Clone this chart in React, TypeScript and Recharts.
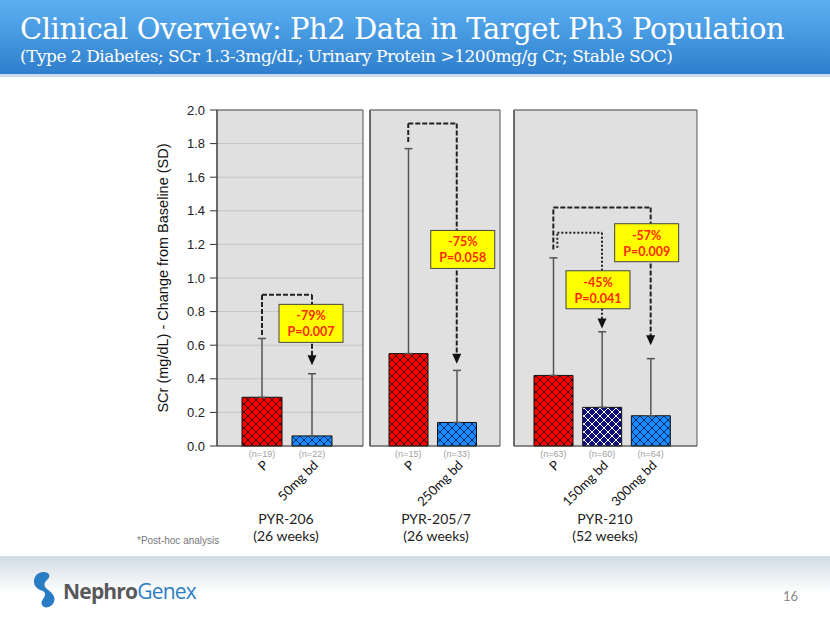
import { BarChart, Bar, Cell, XAxis, YAxis, CartesianGrid, ErrorBar, ReferenceLine, ReferenceDot } from 'recharts'

const yTicks = [0, 0.2, 0.4, 0.6, 0.8, 1.0, 1.2, 1.4, 1.6, 1.8, 2.0]

// PYR-206 (26 weeks)
const p206Doses = ['P', '50mg bd']
const p206Mean = [0.29, 0.06]
const p206SD = [0.35, 0.37]
const p206N = [19, 22]

// PYR-205/7 (26 weeks)
const p205Doses = ['P', '250mg bd']
const p205Mean = [0.55, 0.14]
const p205SD = [1.22, 0.31]
const p205N = [15, 33]

// PYR-210 (52 weeks)
const p210Doses = ['P', '150mg bd', '300mg bd']
const p210Mean = [0.42, 0.23, 0.18]
const p210SD = [0.7, 0.45, 0.34]
const p210N = [63, 60, 64]

// comparisons vs placebo: bracket start / top / arrow end (y values)
const p206Brackets = [{ from: 'P', to: '50mg bd', start: 0.66, top: 0.9, end: 0.48 }]
const p205Brackets = [{ from: 'P', to: '250mg bd', start: 1.81, top: 1.92, end: 0.49 }]
const p210Brackets = [
  { from: 'P', to: '300mg bd', start: 1.17, top: 1.42, end: 0.6 },
  { from: 'P', to: '150mg bd', start: 1.18, top: 1.27, end: 0.7, dotted: true },
]

const p206Boxes = [{ at: '50mg bd', y: 0.73, pct: '-79%', p: 'P=0.007' }]
const p205Boxes = [{ at: '250mg bd', y: 1.17, pct: '-75%', p: 'P=0.058' }]
const p210Boxes = [
  { at: '150mg bd', y: 0.93, pct: '-45%', p: 'P=0.041' },
  { at: '300mg bd', y: 1.21, pct: '-57%', p: 'P=0.009' },
]

const calibri = 'Lato, "Open Sans", sans-serif'
const arial = '"Liberation Sans", Arial, sans-serif'
const serif = '"DejaVu Serif", Georgia, serif'

function rows(doses: string[], mean: number[], sd: number[], n: number[]) {
  return doses.map((dose, i) => ({ dose, mean: mean[i], sd: [0, sd[i]], n: n[i] }))
}

function doseTick(props: any, data: any[]) {
  const { x, y, payload } = props
  const row = data.find((d) => d.dose === payload.value)
  const ax = x + 7
  const ay = y + 20
  return (
    <g>
      <text x={x} y={y + 11} textAnchor="middle" fontSize={9} fill="#a0a0a0" fontFamily={arial}>
        (n={row ? row.n : ''})
      </text>
      <text x={ax} y={ay} textAnchor="end" fontSize={13} fill="#111" fontFamily={calibri} transform={`rotate(-45 ${ax} ${ay})`}>
        {payload.value}
      </text>
    </g>
  )
}

function arrowHead(p: any) {
  const { cx, cy } = p
  return <path d={`M${cx - 4.5},${cy - 10} L${cx + 4.5},${cy - 10} L${cx},${cy} Z`} fill="#111" />
}

function dashLine(dx1: number, dx2: number, dash: string) {
  return (p: any) => <line x1={p.x1 + dx1} y1={p.y1} x2={p.x2 + dx2} y2={p.y2} stroke="#222" strokeWidth={2} strokeDasharray={dash} />
}

function bracket(b: any, k: number) {
  const dash = b.dotted ? '2 2' : '5 2'
  const dx = b.dotted ? 4 : 0
  return [
    <ReferenceLine key={`a${k}`} segment={[{ x: b.from, y: b.start }, { x: b.from, y: b.top }]} shape={dashLine(dx, dx, dash)} />,
    <ReferenceLine key={`b${k}`} segment={[{ x: b.from, y: b.top }, { x: b.to, y: b.top }]} shape={dashLine(dx, 0, dash)} />,
    <ReferenceLine key={`c${k}`} segment={[{ x: b.to, y: b.top }, { x: b.to, y: b.end + 0.04 }]} shape={dashLine(0, 0, dash)} />,
    <ReferenceDot key={`d${k}`} x={b.to} y={b.end} r={5} shape={arrowHead} />,
  ]
}

function labelBox(b: any, k: number, dx: number) {
  return (
    <ReferenceDot
      key={`box${k}`}
      x={b.at}
      y={b.y}
      r={5}
      shape={(p: any) => (
        <g>
          <rect x={p.cx + dx - 32} y={p.cy - 19} width={64} height={38} fill="#ffff00" stroke="#444" strokeWidth={1} />
          <text x={p.cx + dx} y={p.cy - 3} textAnchor="middle" fontSize={12.5} fontWeight="bold" fill="#ff2a00" fontFamily={calibri}>
            {b.pct}
          </text>
          <text x={p.cx + dx} y={p.cy + 13} textAnchor="middle" fontSize={12.5} fontWeight="bold" fill="#ff2a00" fontFamily={calibri}>
            {b.p}
          </text>
        </g>
      )}
    />
  )
}

interface PanelProps {
  data: any[]
  fills: string[]
  brackets: any[]
  boxes: any[]
  boxShift: number[]
  left: number
  width: number
  axisWidth: number
  pad: { left: number; right: number }
  barSize: number
  showLabels?: boolean
}

function Panel({ data, fills, brackets, boxes, boxShift, left, width, axisWidth, pad, barSize, showLabels }: PanelProps) {
  return (
    <div style={{ position: 'absolute', left, top: 100 }}>
      <BarChart width={width} height={406} data={data} margin={{ top: 10, right: 2, bottom: 0, left: 0 }}>
        <CartesianGrid vertical={false} fill="#e0e0e0" stroke="#c6c6c6" strokeWidth={1} />
        {/* panel frame: top and side edges of the plot area */}
        <CartesianGrid
          fill="none"
          stroke="#555"
          strokeWidth={1}
          horizontalCoordinatesGenerator={({ offset }: any) => [offset.top]}
          verticalCoordinatesGenerator={({ offset }: any) => [offset.left, offset.left + offset.width]}
        />
        <XAxis
          dataKey="dose"
          height={60}
          interval={0}
          padding={pad}
          tickLine={false}
          tickSize={0}
          tickMargin={0}
          axisLine={{ stroke: '#333' }}
          tick={(p: any) => doseTick(p, data)}
        />
        <YAxis
          type="number"
          domain={[0, 2]}
          ticks={yTicks}
          interval={0}
          width={axisWidth}
          tickSize={showLabels ? 7 : 5}
          tickMargin={5}
          tickLine={{ stroke: '#333' }}
          axisLine={{ stroke: '#333' }}
          tick={showLabels ? { fill: '#222', fontSize: 13, fontFamily: arial } : false}
          tickFormatter={(v: number) => v.toFixed(1)}
          label={
            showLabels
              ? { value: 'SCr (mg/dL) - Change from Baseline (SD)', angle: -90, position: 'center', dx: -16, style: { fontSize: 14.5, fill: '#111', fontFamily: arial } }
              : undefined
          }
        />
        <Bar dataKey="mean" barSize={barSize} stroke="#111" strokeWidth={1} isAnimationActive={false}>
          {data.map((d, i) => (
            <Cell key={d.dose} fill={`url(#${fills[i]})`} />
          ))}
          <ErrorBar dataKey="sd" width={4} stroke="#555" strokeWidth={1.5} direction="y" />
        </Bar>
        {brackets.flatMap((b, i) => bracket(b, i))}
        {boxes.map((b, i) => labelBox(b, i, boxShift[i]))}
      </BarChart>
    </div>
  )
}

function Hatch({ id, bg, line }: { id: string; bg: string; line: string }) {
  return (
    <pattern id={id} patternUnits="userSpaceOnUse" width={8} height={8}>
      <rect width={8} height={8} fill={bg} />
      <path d="M0,0 L8,8 M8,0 L0,8" stroke={line} strokeWidth={1} />
    </pattern>
  )
}

function Logo() {
  return (
    <svg width={200} height={40} style={{ position: 'absolute', left: 30, top: 570 }}>
      <path d="M14,2 C4,2 2,12 6,17 C9,21 15,20 15,24 C15,29 10,30 12,35 C14,39 22,38 24,32 C26,26 21,22 17,19 C13,16 14,12 18,9 C21,6 19,2 14,2 Z" fill="#2a7dc4" />
      <text x={33} y={29} fontSize={21} fontWeight="bold" fill="#58595b" fontFamily='"Open Sans", sans-serif' letterSpacing={-0.8}>
        Nephro<tspan fontWeight="normal" fill="#2a7dc4">Genex</tspan>
      </text>
    </svg>
  )
}

export default function App() {
  const d206 = rows(p206Doses, p206Mean, p206SD, p206N)
  const d205 = rows(p205Doses, p205Mean, p205SD, p205N)
  const d210 = rows(p210Doses, p210Mean, p210SD, p210N)
  const groupLabel = (x: number, a: string, b: string) => (
    <div style={{ position: 'absolute', left: x - 60, top: 510, width: 120, textAlign: 'center', fontFamily: calibri, fontSize: 14, lineHeight: '17px', color: '#222' }}>
      {a}
      <br />
      {b}
    </div>
  )
  return (
    <div style={{ position: 'absolute', left: 0, top: 0, width: 830, height: 623, background: '#fff', overflow: 'hidden' }}>
      <style>{'.recharts-surface{overflow:visible}'}</style>
      <svg width={0} height={0} style={{ position: 'absolute' }}>
        <defs>
          <Hatch id="hRed" bg="#ff0000" line="#300000" />
          <Hatch id="hBlue" bg="#1a8cff" line="#002a60" />
          <Hatch id="hNavy" bg="#10107a" line="#ffffff" />
        </defs>
      </svg>
      <div style={{ position: 'absolute', left: 0, top: 0, width: 830, height: 74, background: 'linear-gradient(#5cb0f2, #2f7fcd)' }} />
      <div style={{ position: 'absolute', left: 0, top: 74, width: 830, height: 3, background: '#c9dced' }} />
      <div style={{ position: 'absolute', left: 20, top: 12, color: '#fff', fontFamily: serif, fontSize: 29, whiteSpace: 'nowrap', letterSpacing: -0.45 }}>
        Clinical Overview: Ph2 Data in Target Ph3 Population
      </div>
      <div style={{ position: 'absolute', left: 20, top: 46, color: '#fff', fontFamily: serif, fontSize: 17, whiteSpace: 'nowrap', letterSpacing: -0.5 }}>
        (Type 2 Diabetes; SCr 1.3-3mg/dL; Urinary Protein &gt;1200mg/g Cr; Stable SOC)
      </div>

      <Panel data={d206} fills={['hRed', 'hBlue']} brackets={p206Brackets} boxes={p206Boxes} boxShift={[-1]} left={140} width={225} axisWidth={77} pad={{ left: 20, right: 26 }} barSize={40} showLabels />
      <Panel data={d205} fills={['hRed', 'hBlue']} brackets={p205Brackets} boxes={p205Boxes} boxShift={[6]} left={364} width={138} axisWidth={6} pad={{ left: 14, right: 19 }} barSize={39} />
      <Panel data={d210} fills={['hRed', 'hNavy', 'hBlue']} brackets={p210Brackets} boxes={p210Boxes} boxShift={[-4, -4]} left={508} width={191} axisWidth={6} pad={{ left: 15, right: 22 }} barSize={39} />

      {groupLabel(286, 'PYR-206', '(26 weeks)')}
      {groupLabel(436, 'PYR-205/7', '(26 weeks)')}
      {groupLabel(605, 'PYR-210', '(52 weeks)')}
      <div style={{ position: 'absolute', left: 137, top: 535, fontFamily: arial, fontSize: 10, color: '#777' }}>*Post-hoc analysis</div>

      <div style={{ position: 'absolute', left: 0, top: 556, width: 830, height: 67, background: 'linear-gradient(#d2dce5, #ffffff 55%)' }} />
      <Logo />
      <div style={{ position: 'absolute', left: 783, top: 588, fontFamily: calibri, fontSize: 13, color: '#888' }}>16</div>
    </div>
  )
}
